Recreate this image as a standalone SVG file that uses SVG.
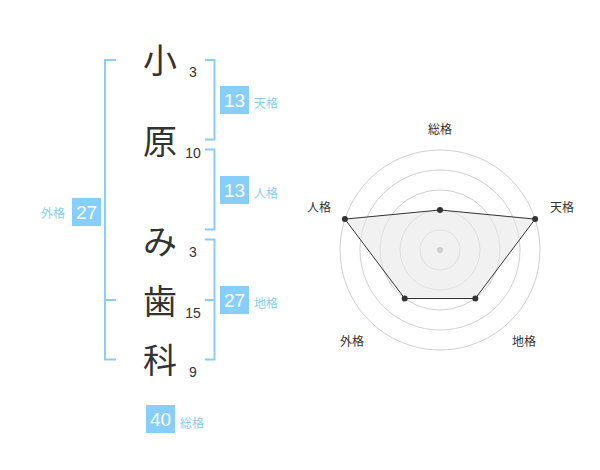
<svg xmlns="http://www.w3.org/2000/svg" width="600" height="470" viewBox="0 0 600 470">
<style>
.ch{font-family:"Noto Sans CJK JP","Noto Sans CJK SC",sans-serif;font-size:34px;fill:#333;text-anchor:middle}
.num{font-family:"Liberation Sans",Arial,sans-serif;font-size:14px;fill:#333;text-anchor:middle}
.br{fill:none;stroke:#87cefa;stroke-width:2}
.box{fill:#87cefa}
.bn{font-family:"Liberation Sans",Arial,sans-serif;font-size:19px;fill:#fff;text-anchor:middle}
.bl{font-family:"Noto Sans CJK JP",sans-serif;font-size:12px;fill:#87cefa}
.ring{fill:none;stroke:#d0d0d0;stroke-width:1}
.rl{font-family:"Noto Sans CJK JP",sans-serif;font-size:12px;fill:#333;text-anchor:middle}
.pt{fill:#333}
</style>
<rect width="600" height="470" fill="#fff"/>
<g id="name">
<g id="c1"><text class="ch" x="160" y="73">小</text><text class="num" x="193" y="76.5">3</text></g>
<g id="c2"><text class="ch" x="160" y="154">原</text><text class="num" x="193" y="158">10</text></g>
<g id="c3"><text class="ch" x="160" y="254">み</text><text class="num" x="193" y="257">3</text></g>
<g id="c4"><text class="ch" x="160" y="314">歯</text><text class="num" x="193" y="317.5">15</text></g>
<g id="c5"><text class="ch" x="160" y="373">科</text><text class="num" x="193" y="377">9</text></g>
</g>
<g id="connectors">
<path class="br" d="M116,60 H105 V359.5 H116 M105,300 H116"/>
<path class="br" d="M205,60 H214.5 V139.5 H205"/>
<path class="br" d="M205,149.5 H214.5 V229.5 H205"/>
<path class="br" d="M205,239.5 H214.5 V359.5 H205 M205,300 H214.5"/>
</g>
<g id="tenkaku"><rect class="box" x="220" y="86" width="29" height="28"/><text class="bn" x="234.5" y="107">13</text><text class="bl" x="254" y="108">天格</text></g>
<g id="jinkaku"><rect class="box" x="220" y="176" width="29" height="28"/><text class="bn" x="234.5" y="197">13</text><text class="bl" x="254" y="198">人格</text></g>
<g id="chikaku"><rect class="box" x="220" y="286" width="29" height="28"/><text class="bn" x="234.5" y="307">27</text><text class="bl" x="254" y="308">地格</text></g>
<g id="gaikaku"><rect class="box" x="72" y="198" width="29" height="28"/><text class="bn" x="86.5" y="219">27</text><text class="bl" x="41" y="218">外格</text></g>
<g id="soukaku"><rect class="box" x="146" y="405" width="29" height="28"/><text class="bn" x="160.5" y="426">40</text><text class="bl" x="180" y="428">総格</text></g>
<g id="radar">
<circle class="ring" cx="440" cy="250" r="20"/>
<circle class="ring" cx="440" cy="250" r="40"/>
<circle class="ring" cx="440" cy="250" r="60"/>
<circle class="ring" cx="440" cy="250" r="80"/>
<circle class="ring" cx="440" cy="250" r="100"/>
<polygon points="440,210 535.1,219.1 475.3,298.5 404.7,298.5 344.9,219.1" fill="#e8e8e8" fill-opacity="0.6" stroke="#333" stroke-width="1"/>
<circle cx="440" cy="250" r="3" fill="#ccc"/>
<circle class="pt" cx="440" cy="210" r="3"/>
<circle class="pt" cx="535.1" cy="219.1" r="3"/>
<circle class="pt" cx="475.3" cy="298.5" r="3"/>
<circle class="pt" cx="404.7" cy="298.5" r="3"/>
<circle class="pt" cx="344.9" cy="219.1" r="3"/>
<text class="rl" x="440" y="134">総格</text>
<text class="rl" x="562" y="212">天格</text>
<text class="rl" x="319" y="212">人格</text>
<text class="rl" x="352" y="346">外格</text>
<text class="rl" x="524" y="346">地格</text>
</g>
</svg>
